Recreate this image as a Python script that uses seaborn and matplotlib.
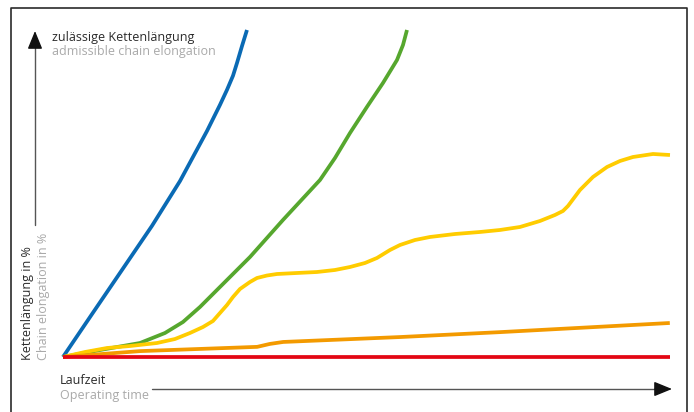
import pandas as pd
import seaborn as sns
import matplotlib.pyplot as plt

# curve data (time 0-100, elongation 0-100 = admissible limit)
blue_x = [0, 4.79, 9.75, 14.71, 19.34, 23.80, 25.95, 27.11, 28.10, 28.76, 29.59, 30.41]
blue_y = [0, 13.1, 26.6, 40.1, 53.8, 69.1, 77.1, 81.7, 86.0, 89.9, 95.1, 100]

green_x = [0, 6.12, 12.73, 16.86, 19.83, 22.64, 25.45, 30.91, 36.36, 42.48, 44.96,
           47.44, 50.25, 52.89, 55.21, 56.20, 56.86]
green_y = [0, 2.14, 4.28, 7.34, 10.70, 15.29, 20.49, 30.58, 41.90, 54.13, 60.86,
           68.50, 76.50, 83.79, 90.83, 95.41, 100]

yellow_x = [0, 3.64, 7.27, 11.07, 15.54, 18.51, 20.99, 23.14, 24.79, 25.95, 27.11,
            28.10, 29.26, 30.91, 32.07, 33.72, 35.37, 38.68, 41.98, 44.96, 47.44,
            49.92, 51.90, 54.05, 55.70, 58.18, 60.66, 64.79, 68.93, 72.23, 75.54,
            78.84, 81.32, 82.64, 83.47, 84.46, 85.45, 87.60, 89.92, 92.07, 94.21,
            97.52, 100.33]
yellow_y = [0, 1.53, 2.75, 3.36, 4.28, 5.50, 7.34, 9.17, 11.01, 13.46, 15.90,
            18.35, 20.80, 22.94, 24.16, 24.92, 25.38, 25.69, 25.99, 26.61, 27.52,
            28.75, 30.28, 32.72, 34.25, 35.78, 36.70, 37.61, 38.23, 38.84, 39.76,
            41.59, 43.43, 44.65, 46.18, 48.62, 51.07, 55.05, 58.10, 59.94, 61.16,
            62.08, 61.77]

orange_x = [0, 12.73, 32.1, 34.2, 36.4, 55.7, 72.2, 100.3]
orange_y = [0, 1.8, 3.1, 4.0, 4.6, 6.1, 7.6, 10.4]

red_x = [0, 100.3]
red_y = [0, 0]

series = {
    "blue": (blue_x, blue_y),
    "green": (green_x, green_y),
    "yellow": (yellow_x, yellow_y),
    "orange": (orange_x, orange_y),
    "red": (red_x, red_y),
}
colors = {"blue": "#0a6ab4", "green": "#56a72e", "yellow": "#ffcc00",
          "orange": "#f39a00", "red": "#e30613"}

rows = []
for name, (xs, ys) in series.items():
    for i, (x, y) in enumerate(zip(xs, ys)):
        rows.append({"curve": name, "order": i, "time": x, "elong": y})
df = pd.DataFrame(rows)

sns.set_style("white")
plt.rcParams["font.family"] = ["Open Sans", "DejaVu Sans"]

fig = plt.figure(figsize=(6.94, 4.12), dpi=100)
ax = fig.add_axes([0, 0, 1, 1])

sns.lineplot(data=df, x="time", y="elong", hue="curve", units="curve",
             estimator=None, sort=False, palette=colors, linewidth=2.7,
             legend=False, ax=ax)
for line in ax.get_lines():
    line.set_solid_capstyle("butt")
    line.set_solid_joinstyle("round")

ax.set_xlim(-10.41, 104.3)
ax.set_ylim(-16.82, 109.17)
ax.axis("off")

W, H = 694, 412
def fx(px):
    return px / W
def fy(py):
    return 1 - py / H

dark = "#2b2b2b"
light = "#a9a9a9"

# frame (top, left, right)
ax.plot([fx(11), fx(11), fx(687), fx(687)], [fy(412), fy(8), fy(8), fy(412)],
        color=dark, lw=1.2, transform=ax.transAxes, clip_on=False)

# y arrow
ax.plot([fx(35), fx(35)], [fy(225), fy(40)], color="#555555", lw=1.0,
        transform=ax.transAxes)
ax.annotate("", xy=(fx(35), fy(31)), xytext=(fx(35), fy(46)),
            xycoords="axes fraction", textcoords="axes fraction",
            arrowprops=dict(arrowstyle="-|>,head_length=1.1,head_width=0.45",
                            color="#111111", lw=1.0, shrinkA=0, shrinkB=0))

# x arrow
ax.plot([fx(152), fx(660)], [fy(389), fy(389)], color="#555555", lw=1.0,
        transform=ax.transAxes)
ax.annotate("", xy=(fx(672), fy(389)), xytext=(fx(655), fy(389)),
            xycoords="axes fraction", textcoords="axes fraction",
            arrowprops=dict(arrowstyle="-|>,head_length=1.1,head_width=0.45",
                            color="#111111", lw=1.0, shrinkA=0, shrinkB=0))

fs = 9.0
ax.text(fx(52), fy(37), "zulässige Kettenlängung", color=dark, fontsize=fs,
        ha="left", va="center", transform=ax.transAxes)
ax.text(fx(52), fy(52), "admissible chain elongation", color=light, fontsize=fs,
        ha="left", va="center", transform=ax.transAxes)
ax.text(fx(60), fy(381), "Laufzeit", color=dark, fontsize=fs,
        ha="left", va="center", transform=ax.transAxes)
ax.text(fx(60), fy(396), "Operating time", color=light, fontsize=fs,
        ha="left", va="center", transform=ax.transAxes)
ax.text(fx(27), fy(360), "Kettenlängung in %", color=dark, fontsize=fs,
        rotation=90, ha="center", va="bottom", transform=ax.transAxes)
ax.text(fx(43), fy(360), "Chain elongation in %", color=light, fontsize=fs,
        rotation=90, ha="center", va="bottom", transform=ax.transAxes)

fig.savefig("out.png", dpi=100, facecolor="white")
